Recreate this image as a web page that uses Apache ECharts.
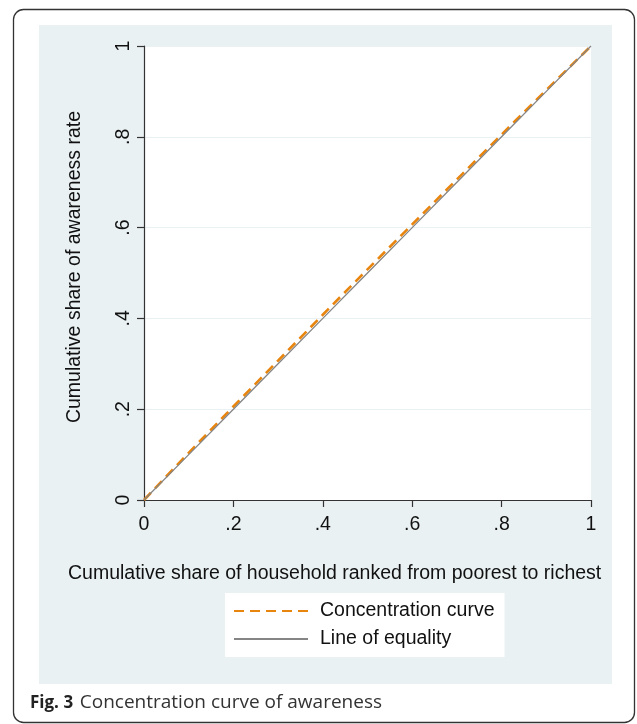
<!DOCTYPE html>
<html>
<head>
<meta charset="utf-8">
<script src="https://cdn.jsdelivr.net/npm/echarts@6/dist/echarts.min.js"></script>
<style>
html,body{margin:0;padding:0;background:#fff;}
#c{width:637px;height:724px;}
</style>
</head>
<body>
<div id="c"></div>
<script>
// Data
const shareHouseholds = [0, 0.1, 0.2, 0.3, 0.4, 0.5, 0.6, 0.7, 0.8, 0.9, 1];
const concentrationCurve = [0, 0.104, 0.206, 0.307, 0.408, 0.508, 0.607, 0.706, 0.805, 0.903, 1];
const lineOfEquality = [0, 0.1, 0.2, 0.3, 0.4, 0.5, 0.6, 0.7, 0.8, 0.9, 1];
const tickValues = [0, 0.2, 0.4, 0.6, 0.8, 1];
const tickLabels = ['0', '.2', '.4', '.6', '.8', '1'];
const seriesNames = ['Concentration curve', 'Line of equality'];
const xTitle = 'Cumulative share of household ranked from poorest to richest';
const yTitle = 'Cumulative share of awareness rate';
const captionLabel = 'Fig. 3';
const captionText = 'Concentration curve of awareness';

function fmt(v) {
  for (let i = 0; i < tickValues.length; i++) {
    if (Math.abs(v - tickValues[i]) < 1e-9) return tickLabels[i];
  }
  return '';
}

const FONT = 'Liberation Sans, Arial, sans-serif';
const chart = echarts.init(document.getElementById('c'), null, {renderer: 'canvas'});

const option = {
  animation: false,
  backgroundColor: '#fff',
  graphic: [
    { type: 'rect', z: -10, shape: {x: 13.5, y: 9.5, width: 621, height: 713, r: 10},
      style: {fill: '#fff', stroke: '#333', lineWidth: 1.3} },
    { type: 'rect', z: -9, shape: {x: 39, y: 25, width: 573, height: 659},
      style: {fill: '#EAF1F3'} },
    { type: 'text', left: 68, top: 564, z: 5,
      style: {text: xTitle, font: '19.5px ' + FONT, fill: '#111'} },
    { type: 'text', x: 75, y: 267, rotation: Math.PI / 2, z: 5,
      style: {text: yTitle, font: '19.5px ' + FONT, fill: '#111', align: 'center', verticalAlign: 'middle'} },
    { type: 'text', x: 30, y: 703, z: 5,
      style: {
        text: '{b|' + captionLabel + '}  {n|' + captionText + '}',
        verticalAlign: 'middle',
        rich: {
          b: {fontFamily: 'Open Sans', fontWeight: 'bold', fontSize: 17, fill: '#222'},
          n: {fontFamily: 'Open Sans', fontSize: 19, fill: '#333'}
        }
      } }
  ],
  grid: {
    left: 144, top: 46, width: 447, height: 454,
    show: true, backgroundColor: '#fff', borderWidth: 0
  },
  legend: {
    orient: 'vertical',
    left: 225, top: 593,
    backgroundColor: '#fff',
    padding: [8, 10, 8, 8],
    itemWidth: 74, itemHeight: 14, itemGap: 8,
    itemStyle: {opacity: 0},
    textStyle: {fontFamily: FONT, fontSize: 19.5, color: '#111', padding: [0, 0, 0, 7], lineHeight: 20},
    data: seriesNames
  },
  xAxis: {
    type: 'value', min: 0, max: 1, interval: 0.2,
    axisLine: {show: true, lineStyle: {color: '#333', width: 1.2}},
    axisTick: {show: true, length: 7, lineStyle: {color: '#333', width: 1.2}},
    axisLabel: {formatter: fmt, fontFamily: FONT, fontSize: 19.5, color: '#111', margin: 15},
    splitLine: {show: false}
  },
  yAxis: {
    type: 'value', min: 0, max: 1, interval: 0.2,
    axisLine: {show: true, lineStyle: {color: '#333', width: 1.2}},
    axisTick: {show: true, length: 7, lineStyle: {color: '#333', width: 1.2}},
    axisLabel: {formatter: fmt, fontFamily: FONT, fontSize: 19.5, color: '#111', rotate: 90, margin: 10},
    splitLine: {show: true, lineStyle: {color: '#EAF1F3', width: 1}}
  },
  series: [
    {
      name: seriesNames[0], type: 'line', symbol: 'none', smooth: false,
      data: shareHouseholds.map((x, i) => [x, concentrationCurve[i]]),
      lineStyle: {color: '#E8850E', width: 2.6, type: [10, 6]},
      itemStyle: {color: '#E8850E'}
    },
    {
      name: seriesNames[1], type: 'line', symbol: 'none',
      data: shareHouseholds.map((x, i) => [x, lineOfEquality[i]]),
      lineStyle: {color: '#858585', width: 1.3},
      itemStyle: {color: '#858585'}
    }
  ]
};
chart.setOption(option);
</script>
</body>
</html>
